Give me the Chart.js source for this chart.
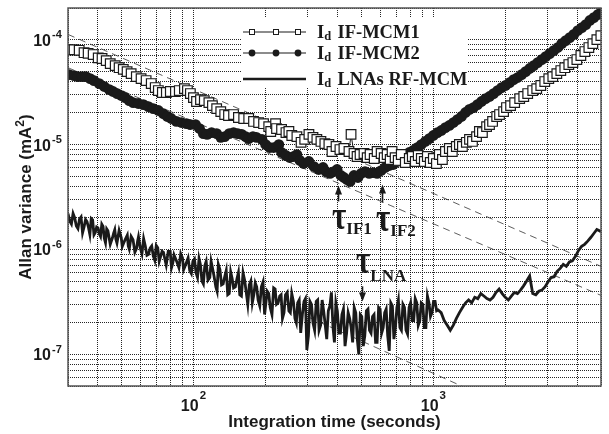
<!DOCTYPE html>
<html><head><meta charset="utf-8">
<script src="https://cdn.jsdelivr.net/npm/chart.js@4.4.1/dist/chart.umd.min.js"></script>
<style>html,body{margin:0;padding:0;background:#fff}#wrap{width:609px;height:434px;position:relative}</style>
</head><body><div id="wrap"><canvas id="c" width="609" height="434"></canvas></div>
<script>
// ---------- axis ticks / labels ----------
const xTicks = [30,40,50,60,70,80,90,100,200,300,400,500,600,700,800,900,1000,2000,3000,4000,5000];
const yTicks = [5e-8,6e-8,7e-8,8e-8,9e-8,1e-7,2e-7,3e-7,4e-7,5e-7,6e-7,7e-7,8e-7,9e-7,
  1e-6,2e-6,3e-6,4e-6,5e-6,6e-6,7e-6,8e-6,9e-6,1e-5,2e-5,3e-5,4e-5,5e-5,6e-5,7e-5,8e-5,9e-5,1e-4,2e-4];
const xLabelValues = [100, 1000];
const xLabelExps = ['2', '3'];
const yLabelValues = [1e-4, 1e-5, 1e-6, 1e-7];
const yLabelExps = ['-4', '-5', '-6', '-7'];
const xTitle = 'Integration time (seconds)';
const yTitle = ['Allan variance (mA', '2', ')'];
const legendNames = ['IF-MCM1', 'IF-MCM2', 'LNAs RF-MCM'];

// ---------- series: Id IF-MCM1 (open squares) ----------
const mcm1X = [30.0,31.8,33.4,35.0,36.4,38.2,40.1,41.6,43.3,45.0,47.2,49.0,51.0,52.9,55.0,57.8,60.5,63.5,66.7,69.3,
  71.4,74.2,77.1,80.1,84.1,87.3,91.7,94.4,97.1,100,103,107,111,116,120,125,130,135,140,147,
  154,162,170,178,187,196,206,210,220,222,233,243,250,257,270,281,291,303,315,327,
  340,353,367,378,393,408,424,445,454,467,481,495,514,530,545,567,583,606,624,642,
  661,673,693,714,735,764,794,817,841,865,891,917,944,971,1000,1030,1059,1091,1123,1166,
  1200,1247,1284,1322,1373,1415,1456,1514,1556,1602,1667,1715,1766,1837,1888,1963,2018,2099,2183,2291,
  2382,2474,2596,2698,2805,2914,3029,3148,3272,3399,3532,3671,3817,3966,4121,4282,4450,4624,4805,4993];
const mcm1Y = [8.0e-5,8.0e-5,7.9e-5,7.5e-5,7.4e-5,7.2e-5,6.7e-5,6.6e-5,6.3e-5,5.9e-5,5.65e-5,5.4e-5,5.2e-5,4.95e-5,4.74e-5,4.44e-5,4.25e-5,4.07e-5,3.81e-5,3.49e-5,
  3.27e-5,3.13e-5,3.13e-5,3.2e-5,3.2e-5,3.27e-5,3.41e-5,3.27e-5,3.06e-5,2.8e-5,2.57e-5,2.68e-5,2.62e-5,2.51e-5,2.35e-5,2.2e-5,2.06e-5,1.93e-5,1.89e-5,1.93e-5,
  1.81e-5,1.77e-5,1.77e-5,1.66e-5,1.62e-5,1.58e-5,1.48e-5,1.33e-5,1.58e-5,1.42e-5,1.39e-5,1.30e-5,1.33e-5,1.22e-5,1.19e-5,1.05e-5,1.12e-5,1.25e-5,1.17e-5,1.12e-5,
  1.07e-5,1.02e-5,1.0e-5,8.58e-6,9.57e-6,8.96e-6,9.16e-6,8.58e-6,1.25e-5,8.21e-6,7.69e-6,8.03e-6,8.21e-6,7.5e-6,8.03e-6,7.36e-6,8.58e-6,8.21e-6,7.5e-6,8.03e-6,
  7.2e-6,8.58e-6,7.5e-6,7.05e-6,8.03e-6,6.74e-6,7.36e-6,7.69e-6,6.89e-6,7.86e-6,7.36e-6,6.89e-6,7.69e-6,6.74e-6,7.36e-6,6.59e-6,8.03e-6,7.2e-6,8.58e-6,9.16e-6,
  8.58e-6,9.57e-6,1.0e-5,9.57e-6,1.05e-5,1.12e-5,1.07e-5,1.19e-5,1.33e-5,1.30e-5,1.48e-5,1.55e-5,1.66e-5,1.85e-5,1.93e-5,2.06e-5,2.25e-5,2.35e-5,2.51e-5,2.74e-5,
  2.87e-5,3.06e-5,3.27e-5,3.41e-5,3.65e-5,3.98e-5,4.25e-5,4.44e-5,4.74e-5,5.07e-5,5.4e-5,5.78e-5,6.04e-5,6.45e-5,7.05e-5,7.69e-5,8.4e-5,9.16e-5,1.0e-4,1.09e-4];

// ---------- series: Id IF-MCM2 (filled circles) ----------
const mcm2X = [30.3,31.8,33.0,34.4,35.6,37.1,38.5,40.5,42.5,44.6,46.2,48.1,50.0,51.9,54.0,56.1,58.9,61.8,64.9,68.0,
  71.4,74.9,77.8,80.8,84.9,89.1,93.5,97.1,102,106,110,114,119,125,130,135,141,147,153,159,
  165,170,177,183,193,200,208,216,227,233,243,252,262,270,278,288,303,318,333,347,
  357,371,385,397,412,424,436,450,467,485,500,519,540,561,583,606,630,655,681,707,
  735,764,794,824,857,891,926,962,1000,1040,1080,1123,1166,1213,1260,1310,1362,1415,
  1470,1528,1588,1651,1715,1783,1853,1926,2001,2080,2162,2246,2334,2426,2521,2620,2723,2830,
  2941,3056,3176,3301,3431,3565,3705,3851,4002,4159,4322,4492,4668,4851,4993];
const mcm2Y = [4.64e-5,4.54e-5,4.44e-5,4.44e-5,4.44e-5,4.25e-5,4.07e-5,3.81e-5,3.57e-5,3.34e-5,3.2e-5,3.06e-5,2.93e-5,2.8e-5,2.62e-5,2.51e-5,2.46e-5,2.40e-5,2.30e-5,2.20e-5,
  2.11e-5,1.97e-5,1.85e-5,1.77e-5,1.66e-5,1.62e-5,1.58e-5,1.55e-5,1.55e-5,1.42e-5,1.27e-5,1.25e-5,1.30e-5,1.27e-5,1.17e-5,1.19e-5,1.27e-5,1.30e-5,1.27e-5,1.25e-5,
  1.19e-5,1.14e-5,1.19e-5,1.17e-5,1.12e-5,1.0e-5,9.36e-6,9.36e-6,1.0e-5,8.4e-6,7.86e-6,7.52e-6,7.69e-6,8.03e-6,7.05e-6,6.59e-6,6.89e-6,6.17e-6,5.78e-6,6.04e-6,
  5.53e-6,5.3e-6,5.53e-6,5.78e-6,5.07e-6,4.85e-6,4.64e-6,4.44e-6,5.07e-6,4.85e-6,5.3e-6,5.53e-6,5.3e-6,5.4e-6,5.3e-6,5.65e-6,6.04e-6,6.31e-6,6.45e-6,6.89e-6,
  7.36e-6,7.86e-6,8.4e-6,8.77e-6,9.36e-6,1.0e-5,1.07e-5,1.14e-5,1.22e-5,1.30e-5,1.36e-5,1.45e-5,1.52e-5,1.62e-5,1.73e-5,1.85e-5,2.02e-5,2.16e-5,
  2.25e-5,2.40e-5,2.57e-5,2.74e-5,2.87e-5,3.06e-5,3.27e-5,3.49e-5,3.65e-5,3.89e-5,4.16e-5,4.35e-5,4.64e-5,4.95e-5,5.3e-5,5.65e-5,6.04e-5,6.45e-5,
  6.89e-5,7.36e-5,7.86e-5,8.4e-5,9.16e-5,9.78e-5,1.045e-4,1.12e-4,1.22e-4,1.30e-4,1.39e-4,1.52e-4,1.62e-4,1.73e-4,1.81e-4];

// ---------- series: Id LNAs RF-MCM (noisy line) ----------
const lnaX = [30,30.5,31,31.5,32,32.5,33,33.5,34,34.5,35,35.5,36,36.5,37,37.5,38,38.5,39,39.5,
  40,40.5,41,41.5,42,42.5,43,43.5,44,45,46,46.5,47,47.5,48,49,50,50.5,51,52,
  53,53.5,54,55,56,57,58,58.5,59,60,61,62,63,64,65,66,67,68,69,70,
  71,72,73,74,75,76,77,78.5,80,81,82,83,84,85.5,87,88.5,90,91,92,93.5,
  95,96.5,98,99.5,101,102.5,104,105.5,107,108.5,110,111.5,113,115,117,118.5,120,122,124,125.5,
  127,129,131,133,135,137,139,141,143,145,147,149.5,152,154,156,158.5,161,163.5,166,168.5,
  171,173.5,176,178.5,181,183.5,186,189,192,195,198,200.5,203,206,209,212.5,216,219,222,225.5,
  229,232,235,238.5,242,246,250,253.5,257,261,265,268.5,272,276,280,284.5,289,293,297,301.5,
  306,310.5,315,320,325,329.5,334,339,344,349,354,359.5,365,370.5,376,381.5,387,392.5,398,404,
  410,416,422,428.5,435,441.5,448,454.5,461,468,475,482,489,496,503,510.5,518,526,534,542,
  550,558,566,574.5,583,591.5,600,609,618,627,636,645.5,655,665,675,685,695,705,715,725.5,
  736,747,758,769.5,781,792.5,804,816,828,840.5,853,865.5,878,891,904,917.5,931,945,959,973,
  987,1002,1017,1032,1047,1078,1110,1143,1177,1212,1248,1285,1323,1363,1403,1445,1488,1532,1578,1625,
  1673,1723,1774,1827,1881,1937,1995,2054,2115,2178,2243,2309,2378,2449,2521,2596,2674,2753,2835,2919,
  3006,3096,3188,3282,3380,3481,3584,3691,3800,3913,4030,4150,4273,4400,4531,4666,4804,4947,5000];
const lnaY = [2.2e-6,1.87e-6,1.75e-6,2.2e-6,2.0e-6,1.67e-6,1.58e-6,1.95e-6,2.04e-6,1.44e-6,1.64e-6,1.93e-6,1.84e-6,1.63e-6,1.39e-6,1.97e-6,1.91e-6,1.38e-6,1.45e-6,1.64e-6,
  1.61e-6,1.41e-6,1.33e-6,1.74e-6,1.66e-6,1.28e-6,1.16e-6,1.57e-6,1.51e-6,1.12e-6,1.30e-6,1.43e-6,1.54e-6,1.25e-6,1.15e-6,1.52e-6,1.30e-6,1.07e-6,1.13e-6,1.25e-6,
  1.37e-6,1.08e-6,1.01e-6,1.33e-6,1.24e-6,9.4e-7,1.03e-6,1.2e-6,1.32e-6,1.04e-6,9.1e-7,1.27e-6,1.08e-6,8.8e-7,9.0e-7,1.03e-6,1.08e-6,8.7e-7,7.9e-7,1.09e-6,
  1.04e-6,7.7e-7,8.6e-7,9.6e-7,9.4e-7,8.1e-7,7.1e-7,9.6e-7,9.6e-7,6.7e-7,7.4e-7,8.9e-7,8.3e-7,7.5e-7,6.7e-7,9.1e-7,8.3e-7,6.4e-7,6.8e-7,7.5e-7,
  8.3e-7,6.3e-7,5.9e-7,7.7e-7,8.1e-7,6.0e-7,5.4e-7,8.2e-7,7.1e-7,5.0e-7,4.7e-7,7.0e-7,7.7e-7,5.1e-7,5.4e-7,7.7e-7,6.7e-7,5.5e-7,4.4e-7,4.0e-7,
  7.2e-7,6.4e-7,4.6e-7,4.7e-7,5.5e-7,6.3e-7,3.7e-7,3.8e-7,6.1e-7,5.3e-7,4.3e-7,4.4e-7,5.3e-7,6.0e-7,3.7e-7,3.6e-7,6.0e-7,5.1e-7,3.9e-7,3.0e-7,
  4.6e-7,5.0e-7,3.1e-7,3.7e-7,4.8e-7,4.4e-7,3.3e-7,2.9e-7,4.4e-7,4.9e-7,2.4e-7,3.1e-7,4.0e-7,3.8e-7,2.8e-7,2.4e-7,4.3e-7,4.2e-7,3.0e-7,3.1e-7,
  3.6e-7,3.7e-7,2.2e-7,2.5e-7,3.7e-7,3.9e-7,2.6e-7,2.5e-7,3.8e-7,3.2e-7,2.2e-7,2.0e-7,3.1e-7,3.3e-7,1.6e-7,2.4e-7,3.2e-7,3.4e-7,1.1e-7,1.5e-7,
  3.2e-7,3.0e-7,2.0e-7,1.7e-7,3.2e-7,3.3e-7,1.7e-7,1.9e-7,3.3e-7,2.6e-7,1.95e-7,1.4e-7,2.6e-7,2.9e-7,3.9e-7,1.85e-7,1.3e-7,3.1e-7,2.6e-7,1.6e-7,
  1.6e-7,2.4e-7,2.7e-7,1.2e-7,1.6e-7,2.5e-7,2.2e-7,1.8e-7,1.3e-7,2.8e-7,2.5e-7,1.4e-7,1.0e-7,2.4e-7,2.3e-7,1.2e-7,1.5e-7,2.6e-7,2.7e-7,1.7e-7,
  1.6e-7,2.3e-7,2.4e-7,1.3e-7,1.3e-7,2.8e-7,2.7e-7,1.6e-7,1.8e-7,2.5e-7,2.7e-7,1.5e-7,1.08e-7,3.1e-7,2.9e-7,1.4e-7,1.8e-7,2.8e-7,3.3e-7,1.8e-7,
  1.7e-7,3.0e-7,2.8e-7,1.7e-7,1.56e-7,2.8e-7,3.1e-7,2.1e-7,2.1e-7,3.4e-7,3.1e-7,1.9e-7,2.1e-7,3.1e-7,3.0e-7,1.8e-7,1.8e-7,3.6e-7,3.1e-7,2.3e-7,
  2.5e-7,3.2e-7,3.2e-7,2.6e-7,2.65e-7,2.5e-7,2.1e-7,1.9e-7,1.7e-7,1.9e-7,2.2e-7,2.5e-7,2.8e-7,3.1e-7,3.3e-7,3.1e-7,3.5e-7,3.4e-7,3.8e-7,3.6e-7,
  3.4e-7,3.3e-7,3.5e-7,3.9e-7,4.2e-7,3.8e-7,3.5e-7,3.3e-7,3.6e-7,3.9e-7,3.8e-7,4.1e-7,4.5e-7,5.0e-7,5.6e-7,3.8e-7,3.7e-7,4.0e-7,4.1e-7,4.4e-7,
  4.9e-7,5.4e-7,5.5e-7,6.2e-7,6.6e-7,7.2e-7,6.9e-7,7.6e-7,7.8e-7,8.6e-7,9.8e-7,1.07e-6,1.12e-6,1.2e-6,1.3e-6,1.42e-6,1.55e-6,1.5e-6,1.47e-6];

// ---------- dashed reference lines (tau^-1) ----------
const fit1X = [30, 5000];  const fit1Y = [1.12e-4, 6.9e-7];
const fit2X = [30, 5000];  const fit2Y = [5.4e-5, 3.65e-7];
const fit3X = [300, 1500]; const fit3Y = [2.28e-7, 4.35e-8];

// ---------- annotations (arrows) ----------
const annNames = ['IF1', 'IF2', 'LNA'];
const annX = [401, 612, 505];
const annTail = [2.87e-6, 2.8e-6, 4.45e-7];
const annTip = [4.07e-6, 4.15e-6, 3.2e-7];

const INK = '#1a1a1a';
const pts = (xs, ys) => xs.map((x, i) => ({x: x, y: ys[i]}));
const SANS = '"Liberation Sans", Arial, Helvetica, sans-serif';
const SERIF = '"Liberation Serif", "Times New Roman", serif';

const decor = {
  id: 'decor',
  beforeDatasetsDraw(chart) {
    const ctx = chart.ctx;
    ctx.save();
    ctx.fillStyle = '#ffffff';
    ctx.fillRect(242, 18, 226, 70);
    ctx.restore();
  },
  afterDraw(chart) {
    const ctx = chart.ctx, xs = chart.scales.x, ys = chart.scales.y, a = chart.chartArea;
    ctx.save();
    ctx.strokeStyle = '#555'; ctx.lineWidth = 1.5;
    ctx.strokeRect(a.left, a.top, a.right - a.left, a.bottom - a.top);
    ctx.fillStyle = INK; ctx.textBaseline = 'alphabetic';
    yLabelValues.forEach((v, i) => {
      const py = ys.getPixelForValue(v);
      ctx.font = 'bold 16px ' + SANS; ctx.textAlign = 'right';
      ctx.fillText('10', 51, py + 6);
      ctx.font = 'bold 11px ' + SANS; ctx.textAlign = 'left';
      ctx.fillText(yLabelExps[i], 52, py - 1.5);
    });
    xLabelValues.forEach((v, i) => {
      const px = xs.getPixelForValue(v);
      ctx.font = 'bold 16px ' + SANS; const w1 = ctx.measureText('10').width;
      ctx.font = 'bold 11.5px ' + SANS; const w2 = ctx.measureText(xLabelExps[i]).width;
      const s = px - (w1 + w2 + 1) / 2;
      ctx.textAlign = 'left';
      ctx.font = 'bold 16px ' + SANS; ctx.fillText('10', s, 411);
      ctx.font = 'bold 11.5px ' + SANS; ctx.fillText(xLabelExps[i], s + w1 + 1, 399);
    });
    ctx.font = 'bold 17px ' + SANS; ctx.textAlign = 'center';
    ctx.fillText(xTitle, (a.left + a.right) / 2, 427);
    ctx.save();
    ctx.translate(31, (a.top + a.bottom) / 2);
    ctx.rotate(-Math.PI / 2);
    ctx.textAlign = 'left';
    ctx.font = 'bold 17px ' + SANS; const t1 = ctx.measureText(yTitle[0]).width; const t3 = ctx.measureText(yTitle[2]).width;
    ctx.font = 'bold 12px ' + SANS; const t2 = ctx.measureText(yTitle[1]).width;
    const sx = -(t1 + t2 + t3) / 2;
    ctx.font = 'bold 17px ' + SANS; ctx.fillText(yTitle[0], sx, 0);
    ctx.font = 'bold 12px ' + SANS; ctx.fillText(yTitle[1], sx + t1, -7);
    ctx.font = 'bold 17px ' + SANS; ctx.fillText(yTitle[2], sx + t1 + t2, 0);
    ctx.restore();
    // legend
    const rows = [32, 53, 79];
    const mk = [252, 276, 298];
    ctx.strokeStyle = INK;
    rows.forEach((ry, i) => {
      ctx.lineWidth = i === 2 ? 2.4 : 1.2;
      ctx.beginPath(); ctx.moveTo(243, ry); ctx.lineTo(306, ry); ctx.stroke();
      if (i === 0) {
        ctx.lineWidth = 1;
        mk.forEach(mx => { ctx.fillStyle = '#fff'; ctx.fillRect(mx - 2.5, ry - 2.5, 5, 5); ctx.strokeRect(mx - 2.5, ry - 2.5, 5, 5); });
      } else if (i === 1) {
        ctx.fillStyle = INK;
        mk.forEach(mx => { ctx.beginPath(); ctx.arc(mx, ry, 3.4, 0, Math.PI * 2); ctx.fill(); });
      }
      ctx.fillStyle = INK; ctx.textAlign = 'left';
      ctx.font = 'bold 18.5px ' + SERIF; ctx.fillText('I', 317, ry + 5.5);
      const wI = ctx.measureText('I').width;
      ctx.font = 'bold 12.5px ' + SERIF; ctx.fillText('d', 317 + wI, ry + 8);
      ctx.font = 'bold 18.5px ' + SERIF; ctx.fillText(legendNames[i], 337.5, ry + 5.5);
    });
    // annotations
    ctx.fillStyle = INK; ctx.strokeStyle = INK; ctx.lineWidth = 1.6;
    annNames.forEach((nm, i) => {
      const px = Math.round(xs.getPixelForValue(annX[i])) + 0.5;
      const pTail = ys.getPixelForValue(annTail[i]);
      const pTip = ys.getPixelForValue(annTip[i]);
      const dir = pTip < pTail ? 1 : -1;
      ctx.beginPath(); ctx.moveTo(px, pTail); ctx.lineTo(px, pTip + dir * 7); ctx.stroke();
      ctx.beginPath(); ctx.moveTo(px, pTip); ctx.lineTo(px - 3.5, pTip + dir * 9); ctx.lineTo(px + 3.5, pTip + dir * 9); ctx.closePath(); ctx.fill();
      const base = dir === 1 ? pTail + 28 : pTail - 13;
      const tx = px - 6.5;
      ctx.save();
      ctx.translate(tx, base); ctx.scale(1, 1.35);
      ctx.font = 'bold 31px ' + SERIF; ctx.textAlign = 'left';
      ctx.fillText('τ', 0, 0);
      const wt = ctx.measureText('τ').width;
      ctx.restore();
      ctx.font = 'bold 17px ' + SERIF; ctx.textAlign = 'left';
      ctx.fillText(nm, tx + wt, base + (dir === 1 ? 5 : 8));
    });
    ctx.restore();
  }
};

const gridOpts = { color: 'rgba(0,0,0,0.85)', lineWidth: 1, drawTicks: false };

new Chart(document.getElementById('c'), {
  type: 'scatter',
  data: {
    datasets: [
      { label: 'Id IF-MCM1', data: pts(mcm1X, mcm1Y), showLine: true, borderColor: INK, borderWidth: 1,
        pointStyle: 'rect', pointRadius: 6.8, pointBackgroundColor: '#fff', pointBorderColor: INK, pointBorderWidth: 1.2, order: 0 },
      { label: 'Id IF-MCM2', data: pts(mcm2X, mcm2Y), showLine: true, borderColor: INK, borderWidth: 1,
        pointStyle: 'circle', pointRadius: 5.4, pointBackgroundColor: INK, pointBorderColor: INK, pointBorderWidth: 0, order: 1 },
      { label: 'Id LNAs RF-MCM', data: pts(lnaX, lnaY), showLine: true, borderColor: INK, borderWidth: 2.8,
        pointRadius: 0, order: 2 },
      { label: 'fit1', data: pts(fit1X, fit1Y), showLine: true, borderColor: '#333', borderWidth: 0.8, borderDash: [7, 5], pointRadius: 0, order: 3 },
      { label: 'fit2', data: pts(fit2X, fit2Y), showLine: true, borderColor: '#333', borderWidth: 0.8, borderDash: [7, 5], pointRadius: 0, order: 3 },
      { label: 'fit3', data: pts(fit3X, fit3Y), showLine: true, borderColor: '#333', borderWidth: 0.8, borderDash: [7, 5], pointRadius: 0, order: 3 }
    ]
  },
  options: {
    responsive: false, animation: false, devicePixelRatio: 1, events: [],
    layout: { padding: { top: 6, right: 7, left: 0, bottom: 0 } },
    plugins: { legend: { display: false }, tooltip: { enabled: false } },
    scales: {
      x: { type: 'logarithmic', min: 30, max: 5000,
        ticks: { display: false }, grid: gridOpts, border: { display: false, dash: [1, 1] },
        afterBuildTicks: s => { s.ticks = xTicks.map(v => ({ value: v })); },
        afterFit: s => { s.height = 48; } },
      y: { type: 'logarithmic', min: 5e-8, max: 2e-4,
        ticks: { display: false }, grid: gridOpts, border: { display: false, dash: [1, 1] },
        afterBuildTicks: s => { s.ticks = yTicks.map(v => ({ value: v })); },
        afterFit: s => { s.width = 68; } }
    }
  },
  plugins: [decor]
});
</script></body></html>
